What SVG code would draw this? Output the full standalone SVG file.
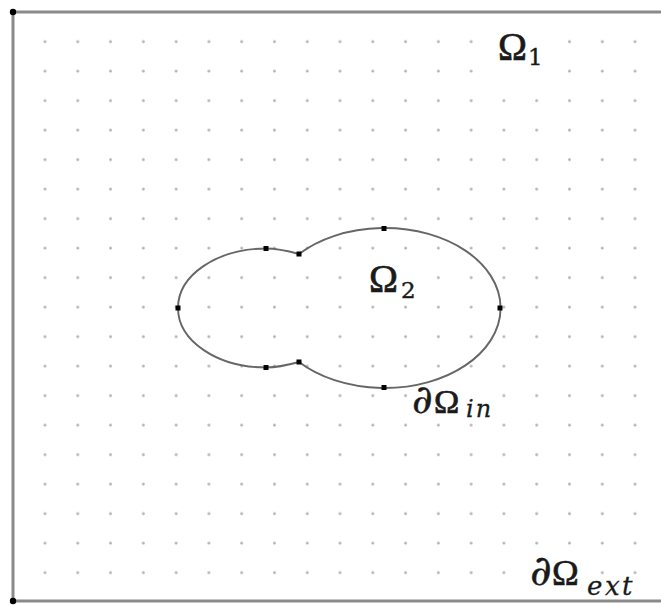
<svg xmlns="http://www.w3.org/2000/svg" width="661" height="605" viewBox="0 0 661 605">
  <style>
    .frame { stroke: #8a8a8a; stroke-width: 3; fill: none; }
    .curve { stroke: #666; stroke-width: 1.9; fill: none; }
    .pt { fill: #000; }
    .om { font-family: "Liberation Serif", "DejaVu Serif", serif; fill: #1a1a1a; stroke: #1a1a1a; stroke-width: 0.7; }
    .num { font-family: "DejaVu Serif", "Liberation Serif", serif; fill: #1a1a1a; stroke: #1a1a1a; stroke-width: 0.4; }
    .d { font-family: "DejaVu Serif", "Liberation Serif", serif; font-style: italic; fill: #1a1a1a; stroke: #1a1a1a; stroke-width: 0.4; }
    .it { font-family: "DejaVu Serif", "Liberation Serif", serif; font-style: italic; fill: #1a1a1a; stroke: #1a1a1a; stroke-width: 0.3; }
    .bg { fill: #fff; }
  </style>
  <defs>
    <pattern id="grid" patternUnits="userSpaceOnUse" x="28.61" y="26.95" width="32.78" height="29.5">
      <circle cx="16.39" cy="14.75" r="1.4" fill="#b0b0b0"/>
    </pattern>
  </defs>
  <rect x="0" y="0" width="661" height="605" fill="#fff"/>
  <g id="grid-dots">
    <rect x="30" y="28" width="625" height="560" fill="url(#grid)"/>
  </g>
  <g id="frame">
    <line class="frame" x1="13" y1="12" x2="661" y2="12"/>
    <line class="frame" x1="13" y1="12" x2="13" y2="601"/>
    <line class="frame" x1="13" y1="601" x2="661" y2="601"/>
    <circle cx="13" cy="12" r="3.2" fill="#000"/>
    <circle cx="13" cy="601" r="3.2" fill="#000"/>
  </g>
  <g id="omega2-region">
    <path class="curve" d="M 299,254 A 116 80 0 1 1 299,362 C 288,365 277,367.5 266,367.5 C 217.4,367.5 178,341 178,308 C 178,275 217.4,248.5 266,248.5 C 277,248.5 288,251 299,254 Z"/>
    <rect class="pt" x="175.5" y="305.5" width="5" height="5"/>
    <rect class="pt" x="263.5" y="246" width="5" height="5"/>
    <rect class="pt" x="296.5" y="251.5" width="5" height="5"/>
    <rect class="pt" x="263.5" y="365" width="5" height="5"/>
    <rect class="pt" x="296.5" y="359.5" width="5" height="5"/>
    <rect class="pt" x="381.5" y="226" width="5" height="5"/>
    <rect class="pt" x="497.5" y="305.5" width="5" height="5"/>
    <rect class="pt" x="381.5" y="385" width="5" height="5"/>
  </g>
  <g id="label-omega1">
    <rect class="bg" x="495" y="30" width="54" height="46"/>
    <text class="om" x="498" y="60" font-size="39">Ω</text>
    <text class="num" x="528" y="65" font-size="23">1</text>
  </g>
  <g id="label-omega2">
    <rect class="bg" x="366" y="264" width="58" height="37"/>
    <text class="om" x="369" y="292" font-size="39">Ω</text>
    <text class="num" x="401" y="298" font-size="23">2</text>
  </g>
  <g id="label-boundary-in">
    <rect class="bg" x="412" y="390" width="90" height="30"/>
    <text class="d" x="412" y="413" font-size="40">∂</text>
    <text class="om" x="434" y="413" font-size="34">Ω</text>
    <text class="it" x="466" y="417" font-size="24" letter-spacing="2">in</text>
  </g>
  <g id="label-boundary-ext">
    <rect class="bg" x="530" y="558" width="60" height="32"/>
    <text class="d" x="530" y="585" font-size="42">∂</text>
    <text class="om" x="552" y="585" font-size="36">Ω</text>
    <text class="it" x="587" y="595" font-size="26" letter-spacing="2.5">ext</text>
  </g>
  <g id="connectors"></g>
</svg>
